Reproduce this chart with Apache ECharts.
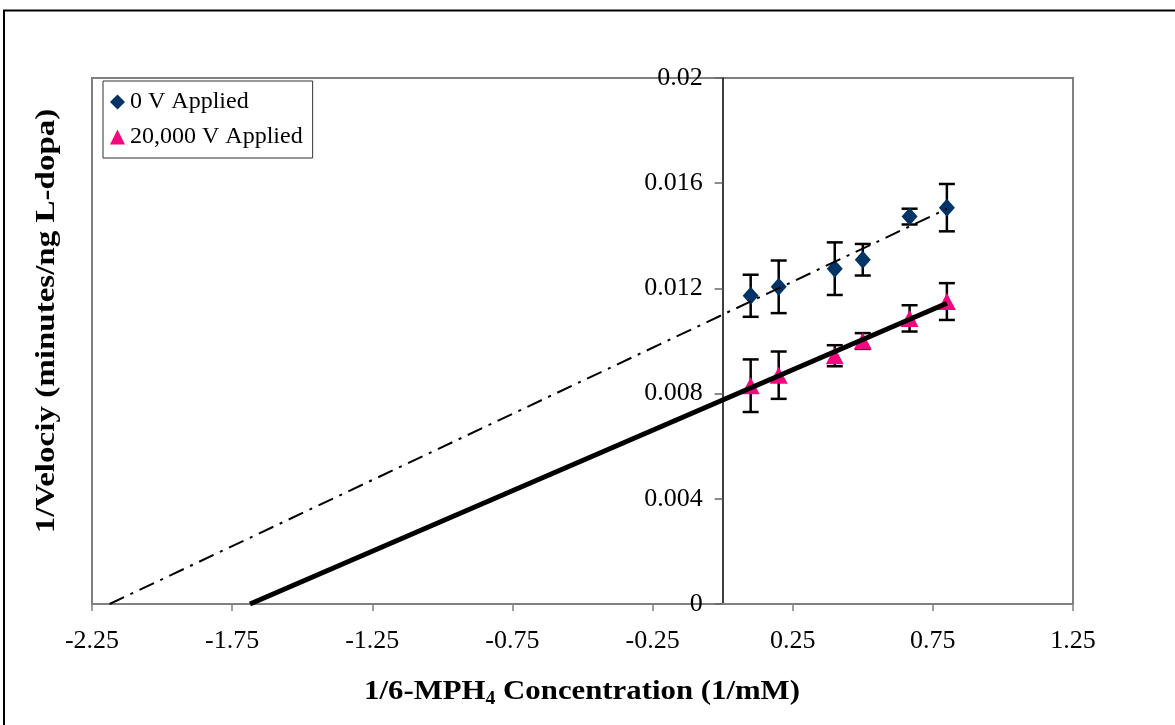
<!DOCTYPE html>
<html>
<head>
<meta charset="utf-8">
<script src="https://cdn.jsdelivr.net/npm/echarts@6/dist/echarts.min.js"></script>
<style>
  html, body { margin: 0; padding: 0; background: #fff; }
  #chart { width: 1175px; height: 725px; }
</style>
</head>
<body>
<div id="chart"></div>
<script>
// Reciprocal substrate concentration (1/mM)
const concInv = [0.1, 0.2, 0.4, 0.5, 0.667, 0.8];
// 1/velocity with no field applied, and its error
const noVoltage = [0.01172, 0.01206, 0.01275, 0.01309, 0.01473, 0.01507];
const noVoltageErr = [0.0008, 0.001, 0.001, 0.0006, 0.0003, 0.0009];
// 1/velocity with 20,000 V applied, and its error
const highVoltage = [0.0083, 0.0087, 0.00944, 0.0100, 0.01086, 0.0115];
const highVoltageErr = [0.001, 0.0009, 0.0004, 0.0003, 0.0005, 0.0007];
// Tick labels of the bottom axis
const xTickLabels = ['-2.25', '-1.75', '-1.25', '-0.75', '-0.25', '0.25', '0.75', '1.25'];

const seriesNames = ['0 V Applied', '20,000 V Applied'];
const serif = '"Liberation Serif", "Times New Roman", serif';

// Plot box
const W = 1175, H = 725;
const G = { left: 92, right: 102, top: 78, bottom: 121 };
const X_MIN = -2.25, X_MAX = 1.25;
// The vertical axis crosses at x = 0
const yAxisOffset = -((0 - X_MIN) / (X_MAX - X_MIN)) * (W - G.left - G.right);

// Least-squares fit, extended back to where it meets y = 0
function trendLine(xs, ys) {
  const n = xs.length;
  const mx = xs.reduce((a, b) => a + b, 0) / n;
  const my = ys.reduce((a, b) => a + b, 0) / n;
  let sxy = 0, sxx = 0;
  for (let i = 0; i < n; i++) {
    sxy += (xs[i] - mx) * (ys[i] - my);
    sxx += (xs[i] - mx) * (xs[i] - mx);
  }
  const slope = sxy / sxx;
  const icpt = my - slope * mx;
  const x0 = -icpt / slope;
  const x1 = Math.max(...xs);
  return [[x0, 0], [x1, icpt + slope * x1]];
}

function points(ys) { return concInv.map((x, i) => [x, ys[i]]); }
function errData(ys, es) { return concInv.map((x, i) => [x, ys[i] - es[i], ys[i] + es[i]]); }

function errorBars(params, api) {
  const x = api.value(0);
  const lo = api.coord([x, api.value(1)]);
  const hi = api.coord([x, api.value(2)]);
  const half = 8;
  const st = { stroke: '#000', lineWidth: 2.5 };
  return {
    type: 'group',
    children: [
      { type: 'line', shape: { x1: lo[0], y1: lo[1], x2: hi[0], y2: hi[1] }, style: st },
      { type: 'line', shape: { x1: lo[0] - half, y1: lo[1], x2: lo[0] + half, y2: lo[1] }, style: st },
      { type: 'line', shape: { x1: hi[0] - half, y1: hi[1], x2: hi[0] + half, y2: hi[1] }, style: st }
    ]
  };
}

const chart = echarts.init(document.getElementById('chart'), null, { renderer: 'canvas' });

chart.setOption({
  backgroundColor: '#fff',
  animation: false,
  grid: {
    left: G.left, right: G.right, top: G.top, bottom: G.bottom,
    show: true, borderColor: '#808080', borderWidth: 2, backgroundColor: '#fff'
  },
  legend: {
    orient: 'vertical',
    left: 103, top: 81,
    data: [
      { name: seriesNames[0], icon: 'diamond' },
      { name: seriesNames[1], icon: 'triangle' }
    ],
    itemWidth: 15, itemHeight: 15, itemGap: 11,
    padding: [9, 10, 9, 7],
    borderColor: '#333', borderWidth: 1, backgroundColor: '#fff',
    textStyle: { fontFamily: serif, fontSize: 24, color: '#000' }
  },
  xAxis: [
    {
      type: 'value', min: X_MIN, max: X_MAX, show: false,
      splitLine: { show: false }
    },
    {
      type: 'category', data: xTickLabels, boundaryGap: false, position: 'bottom',
      axisLine: { onZero: false, lineStyle: { color: '#808080', width: 2 } },
      axisTick: { show: true, length: 7, lineStyle: { color: '#808080', width: 1.5 } },
      axisLabel: { interval: 0, margin: 24, fontFamily: serif, fontSize: 26, color: '#000' },
      splitLine: { show: false }
    }
  ],
  yAxis: {
    type: 'value', min: 0, max: 0.02, interval: 0.004,
    position: 'left', offset: yAxisOffset,
    axisLine: { show: true, onZero: false, lineStyle: { color: '#000', width: 1.5 } },
    axisTick: { show: true, length: 8, lineStyle: { color: '#666', width: 1.5 } },
    axisLabel: { margin: 20, fontFamily: serif, fontSize: 26, color: '#000' },
    splitLine: { show: false }
  },
  series: [
    {
      type: 'custom', xAxisIndex: 0, renderItem: errorBars, z: 2,
      data: errData(noVoltage, noVoltageErr), silent: true
    },
    {
      type: 'custom', xAxisIndex: 0, renderItem: errorBars, z: 2,
      data: errData(highVoltage, highVoltageErr), silent: true
    },
    {
      name: seriesNames[0], type: 'scatter', xAxisIndex: 0, z: 3,
      symbol: 'diamond', symbolSize: [16, 18],
      itemStyle: { color: '#003366', opacity: 1 },
      data: points(noVoltage)
    },
    {
      name: seriesNames[1], type: 'scatter', xAxisIndex: 0, z: 3,
      symbol: 'triangle', symbolSize: [18, 17],
      itemStyle: { color: '#f5087f', opacity: 1 },
      data: points(highVoltage)
    },
    {
      type: 'line', xAxisIndex: 0, z: 4, symbol: 'none', silent: true,
      lineStyle: { color: '#000', width: 2, type: [16, 7, 3, 7] },
      data: trendLine(concInv, noVoltage)
    },
    {
      type: 'line', xAxisIndex: 0, z: 4, symbol: 'none', silent: true,
      lineStyle: { color: '#000', width: 5 },
      data: trendLine(concInv, highVoltage)
    }
  ],
  graphic: [
    {
      type: 'rect', silent: true, z: 0,
      shape: { x: 4, y: 10.5, width: 1200, height: 800 },
      style: { fill: 'none', stroke: '#000', lineWidth: 2 }
    },
    {
      type: 'text', silent: true,
      x: 582, y: 692, scaleX: 1.1,
      style: {
        text: '{a|1/6-MPH}{s|4}{a| Concentration (1/mM)}',
        align: 'center', verticalAlign: 'middle',
        rich: {
          a: { fontFamily: serif, fontWeight: 'bold', fontSize: 28, lineHeight: 34, fill: '#000' },
          s: { fontFamily: serif, fontWeight: 'bold', fontSize: 18, lineHeight: 34, fill: '#000', padding: [14, 0, 0, 0] }
        }
      }
    },
    {
      type: 'text', silent: true,
      x: 47, y: 321, rotation: Math.PI / 2, scaleX: 1.18,
      style: {
        text: '1/Velociy (minutes/ng L-dopa)',
        align: 'center', verticalAlign: 'middle',
        fontFamily: serif, fontWeight: 'bold', fontSize: 28, fill: '#000'
      }
    }
  ]
});
</script>
</body>
</html>
